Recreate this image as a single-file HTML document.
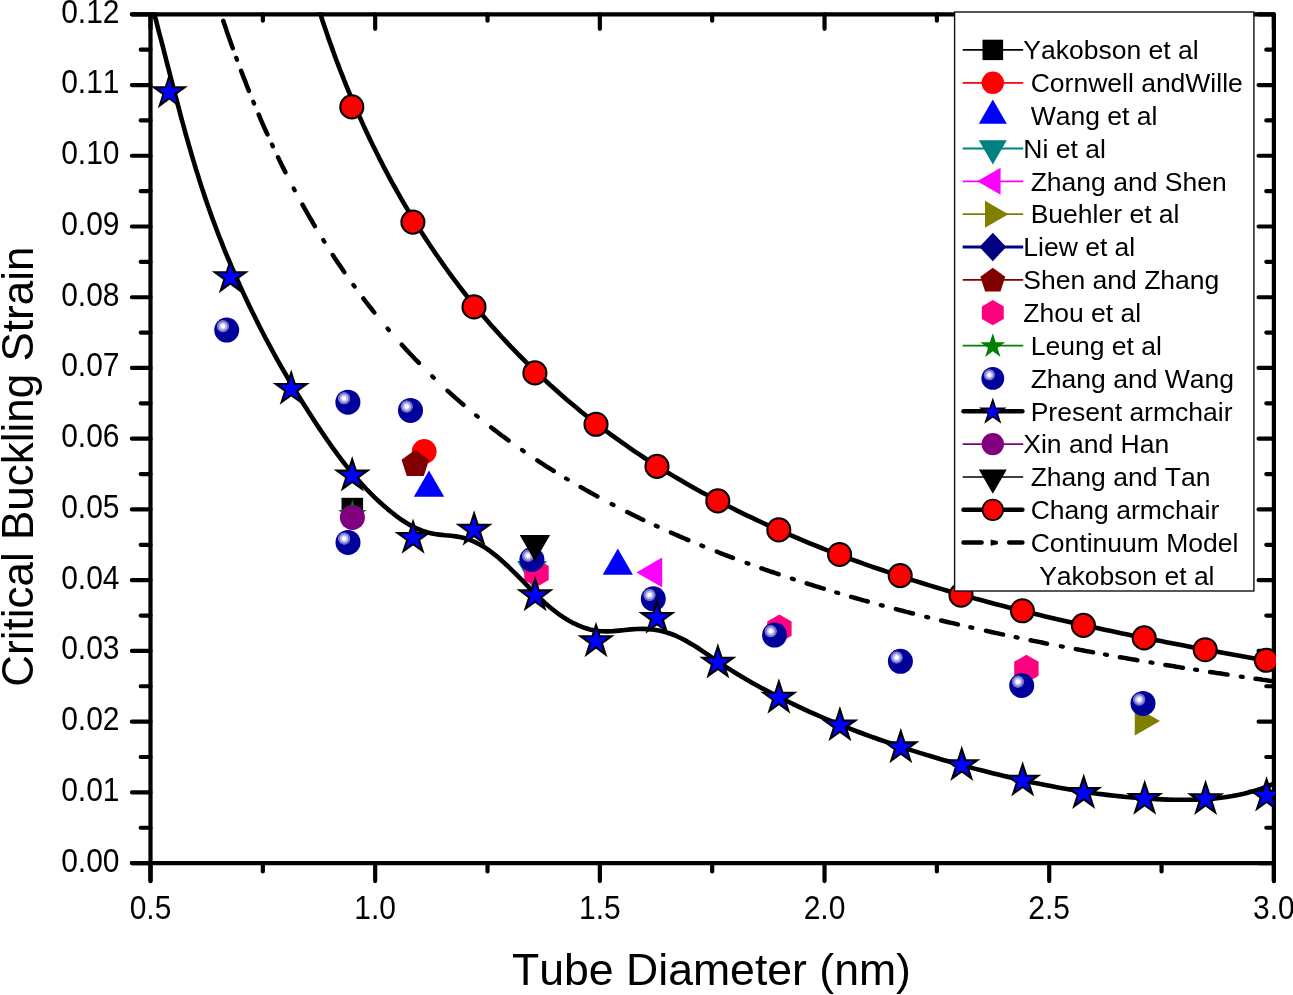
<!DOCTYPE html>
<html lang="en"><head><meta charset="utf-8"><title>Critical Buckling Strain vs Tube Diameter</title>
<style>html,body{margin:0;padding:0;background:#fff;}body{width:1293px;height:995px;overflow:hidden;}svg{display:block;will-change:transform;}</style>
</head><body>
<svg width="1293" height="995" viewBox="0 0 1293 995">
<defs>
<radialGradient id="hl" cx="0.5" cy="0.5" r="0.5"><stop offset="0" stop-color="#ffffff"/><stop offset="0.27" stop-color="#ffffff"/><stop offset="0.40" stop-color="#c6c6ec"/><stop offset="0.60" stop-color="#b0b0e3"/><stop offset="0.69" stop-color="#7a7ace"/><stop offset="0.90" stop-color="#6a6ac6"/><stop offset="1" stop-color="#00009b"/></radialGradient>
<clipPath id="plot"><rect x="148.5" y="12.3" width="1127.4" height="852.8000000000001"/></clipPath>
</defs>
<rect width="1293" height="995" fill="#fff"/>
<g stroke="#000" stroke-width="4.2" stroke-linecap="round" fill="none">
<path d="M131.9,14.3H1273.9M131.9,863.1H1273.9M150.5,14.3V881.1M1273.9,14.3V881.1"/>
<path d="M131.9,863.10H150.5M1258.6000000000001,863.10H1273.9M140.7,827.73H150.5M1266.3000000000002,827.73H1273.9M131.9,792.37H150.5M1258.6000000000001,792.37H1273.9M140.7,757.00H150.5M1266.3000000000002,757.00H1273.9M131.9,721.63H150.5M1258.6000000000001,721.63H1273.9M140.7,686.27H150.5M1266.3000000000002,686.27H1273.9M131.9,650.90H150.5M1258.6000000000001,650.90H1273.9M140.7,615.53H150.5M1266.3000000000002,615.53H1273.9M131.9,580.17H150.5M1258.6000000000001,580.17H1273.9M140.7,544.80H150.5M1266.3000000000002,544.80H1273.9M131.9,509.43H150.5M1258.6000000000001,509.43H1273.9M140.7,474.07H150.5M1266.3000000000002,474.07H1273.9M131.9,438.70H150.5M1258.6000000000001,438.70H1273.9M140.7,403.33H150.5M1266.3000000000002,403.33H1273.9M131.9,367.97H150.5M1258.6000000000001,367.97H1273.9M140.7,332.60H150.5M1266.3000000000002,332.60H1273.9M131.9,297.23H150.5M1258.6000000000001,297.23H1273.9M140.7,261.87H150.5M1266.3000000000002,261.87H1273.9M131.9,226.50H150.5M1258.6000000000001,226.50H1273.9M140.7,191.13H150.5M1266.3000000000002,191.13H1273.9M131.9,155.77H150.5M1258.6000000000001,155.77H1273.9M140.7,120.40H150.5M1266.3000000000002,120.40H1273.9M131.9,85.03H150.5M1258.6000000000001,85.03H1273.9M140.7,49.67H150.5M1266.3000000000002,49.67H1273.9M131.9,14.30H150.5M1258.6000000000001,14.30H1273.9M150.50,863.1V881.1M150.50,14.3V28.8M262.84,863.1V871.4M262.84,14.3V20.700000000000003M375.18,863.1V881.1M375.18,14.3V28.8M487.52,863.1V871.4M487.52,14.3V20.700000000000003M599.86,863.1V881.1M599.86,14.3V28.8M712.20,863.1V871.4M712.20,14.3V20.700000000000003M824.54,863.1V881.1M824.54,14.3V28.8M936.88,863.1V871.4M936.88,14.3V20.700000000000003M1049.22,863.1V881.1M1049.22,14.3V28.8M1161.56,863.1V871.4M1161.56,14.3V20.700000000000003M1273.90,863.1V881.1M1273.90,14.3V28.8"/>
</g>
<g font-family="Liberation Sans, Arial, Helvetica, sans-serif" style="font-kerning:none" font-size="30" fill="#000">
<text transform="translate(119.5,871.5) scale(1,1.1)" text-anchor="end">0.00</text>
<text transform="translate(119.5,800.8) scale(1,1.1)" text-anchor="end">0.01</text>
<text transform="translate(119.5,730.0) scale(1,1.1)" text-anchor="end">0.02</text>
<text transform="translate(119.5,659.3) scale(1,1.1)" text-anchor="end">0.03</text>
<text transform="translate(119.5,588.6) scale(1,1.1)" text-anchor="end">0.04</text>
<text transform="translate(119.5,517.8) scale(1,1.1)" text-anchor="end">0.05</text>
<text transform="translate(119.5,447.1) scale(1,1.1)" text-anchor="end">0.06</text>
<text transform="translate(119.5,376.4) scale(1,1.1)" text-anchor="end">0.07</text>
<text transform="translate(119.5,305.6) scale(1,1.1)" text-anchor="end">0.08</text>
<text transform="translate(119.5,234.9) scale(1,1.1)" text-anchor="end">0.09</text>
<text transform="translate(119.5,164.2) scale(1,1.1)" text-anchor="end">0.10</text>
<text transform="translate(119.5,93.4) scale(1,1.1)" text-anchor="end">0.11</text>
<text transform="translate(119.5,22.7) scale(1,1.1)" text-anchor="end">0.12</text>
<text transform="translate(150.5,919.1) scale(1,1.1)" text-anchor="middle">0.5</text>
<text transform="translate(375.2,919.1) scale(1,1.1)" text-anchor="middle">1.0</text>
<text transform="translate(599.9,919.1) scale(1,1.1)" text-anchor="middle">1.5</text>
<text transform="translate(824.5,919.1) scale(1,1.1)" text-anchor="middle">2.0</text>
<text transform="translate(1049.2,919.1) scale(1,1.1)" text-anchor="middle">2.5</text>
<text transform="translate(1273.9,919.1) scale(1,1.1)" text-anchor="middle">3.0</text>
</g>
<text font-family="Liberation Sans, Arial, Helvetica, sans-serif" style="font-kerning:none" font-size="44.6" x="711.5" y="984.8" text-anchor="middle">Tube Diameter (nm)</text>
<text font-family="Liberation Sans, Arial, Helvetica, sans-serif" style="font-kerning:none" font-size="44" transform="translate(33.2,686.7) rotate(-90)">Critical Buckling Strain</text>
<g clip-path="url(#plot)">
<rect x="341.5" y="497.8" width="21.6" height="21.6" fill="#000"/>
<circle cx="424.2" cy="451.4" r="12.4" fill="#f00"/>
<polygon points="429.00,470.45 413.80,496.78 444.20,496.78" fill="#00f"/>
<polygon points="617.80,548.56 602.70,574.72 632.90,574.72" fill="#00f"/>
<polygon points="532.00,586.69 517.20,561.06 546.80,561.06" fill="#008080"/>
<polygon points="636.39,572.40 662.20,557.50 662.20,587.30" fill="#f0f"/>
<polygon points="1160.06,721.00 1134.77,706.40 1134.77,735.60" fill="#808000"/>
<polygon points="415.30,449.80 429.09,459.82 423.82,476.03 406.78,476.03 401.51,459.82" fill="#800000"/>
<polygon points="536.50,558.90 548.71,565.95 548.71,580.05 536.50,587.10 524.29,580.05 524.29,565.95" fill="#ff007f"/>
<polygon points="779.40,614.50 791.61,621.55 791.61,635.65 779.40,642.70 767.19,635.65 767.19,621.55" fill="#ff007f"/>
<polygon points="1026.40,654.70 1038.61,661.75 1038.61,675.85 1026.40,682.90 1014.19,675.85 1014.19,661.75" fill="#ff007f"/>
<polygon points="352.40,499.40 355.81,509.90 366.86,509.90 357.92,516.39 361.33,526.90 352.40,520.41 343.47,526.90 346.88,516.39 337.94,509.90 348.99,509.90" fill="#008000"/>
<circle cx="226.7" cy="330.1" r="12.5" fill="#00009b"/><circle cx="222.90" cy="326.25" r="6.50" fill="url(#hl)"/>
<circle cx="347.9" cy="402.2" r="12.5" fill="#00009b"/><circle cx="344.10" cy="398.35" r="6.50" fill="url(#hl)"/>
<circle cx="410.5" cy="410.4" r="12.5" fill="#00009b"/><circle cx="406.70" cy="406.55" r="6.50" fill="url(#hl)"/>
<circle cx="348.0" cy="542.4" r="12.5" fill="#00009b"/><circle cx="344.20" cy="538.55" r="6.50" fill="url(#hl)"/>
<circle cx="531.9" cy="559.5" r="12.5" fill="#00009b"/><circle cx="528.10" cy="555.65" r="6.50" fill="url(#hl)"/>
<circle cx="653.3" cy="598.8" r="12.5" fill="#00009b"/><circle cx="649.50" cy="594.95" r="6.50" fill="url(#hl)"/>
<circle cx="774.5" cy="635.1" r="12.5" fill="#00009b"/><circle cx="770.70" cy="631.25" r="6.50" fill="url(#hl)"/>
<circle cx="900.4" cy="661.3" r="12.5" fill="#00009b"/><circle cx="896.60" cy="657.45" r="6.50" fill="url(#hl)"/>
<circle cx="1021.7" cy="685.5" r="12.5" fill="#00009b"/><circle cx="1017.90" cy="681.65" r="6.50" fill="url(#hl)"/>
<circle cx="1143" cy="703.4" r="12.5" fill="#00009b"/><circle cx="1139.20" cy="699.55" r="6.50" fill="url(#hl)"/>
<path d="M153.3,10.1 L154.8,15.8 L156.3,21.4 L157.7,27.1 L159.2,32.8 L160.7,38.5 L162.2,44.2 L163.6,49.8 L165.1,55.5 L166.5,61.2 L168.0,66.9 L169.5,72.6 L170.9,78.3 L172.4,84.1 L173.9,89.8 L175.4,95.5 L176.9,101.2 L178.4,106.9 L179.9,112.6 L181.4,118.3 L183.0,124.0 L184.5,129.6 L186.1,135.3 L187.7,141.0 L189.3,146.7 L191.0,152.3 L192.6,158.0 L194.3,163.6 L196.0,169.3 L197.8,174.9 L199.5,180.5 L201.3,186.1 L203.2,191.7 L205.0,197.3 L206.9,202.8 L208.9,208.4 L210.8,213.9 L212.8,219.5 L214.9,225.0 L216.9,230.5 L219.0,236.0 L221.2,241.4 L223.3,246.9 L225.5,252.3 L227.8,257.8 L230.1,263.2 L232.4,268.6 L234.7,274.0 L237.1,279.3 L239.5,284.7 L241.9,290.0 L244.4,295.4 L246.9,300.7 L249.4,306.0 L252.0,311.3 L254.6,316.6 L257.2,321.8 L259.8,327.0 L262.5,332.3 L265.2,337.5 L268.0,342.7 L270.8,347.9 L273.6,353.0 L276.4,358.2 L279.3,363.3 L282.2,368.4 L285.2,373.5 L288.1,378.6 L291.1,383.7 L294.2,388.8 L297.2,393.8 L300.3,398.8 L303.4,403.8 L306.6,408.8 L309.8,413.8 L313.0,418.8 L316.2,423.7 L319.5,428.6 L322.8,433.6 L326.1,438.4 L329.5,443.3 L332.9,448.1 L336.4,452.9 L339.9,457.6 L343.5,462.3 L347.1,466.9 L350.8,471.4 L354.6,475.9 L358.4,480.4 L362.4,484.7 L366.3,489.0 L370.4,493.2 L374.6,497.3 L378.8,501.3 L383.2,505.3 L387.6,509.1 L392.2,512.8 L396.8,516.4 L401.6,519.8 L406.5,523.0 L411.5,525.9 L416.7,528.5 L422.1,530.7 L427.6,532.5 L433.3,533.8 L439.2,534.6 L445.2,535.3 L451.2,535.8 L457.2,536.6 L463.0,537.7 L468.6,539.4 L474.1,541.6 L479.3,544.2 L484.4,547.2 L489.3,550.5 L494.0,554.1 L498.6,557.8 L503.0,561.7 L507.4,565.7 L511.6,569.8 L515.8,573.9 L519.9,578.1 L524.0,582.2 L528.0,586.4 L532.1,590.6 L536.3,594.7 L540.5,598.7 L544.7,602.7 L549.1,606.5 L553.7,610.2 L558.3,613.8 L563.2,617.1 L568.2,620.3 L573.5,623.2 L578.9,625.7 L584.4,627.8 L590.0,629.5 L595.7,630.7 L601.5,631.3 L607.4,631.4 L613.2,631.1 L619.1,630.6 L625.0,630.0 L631.0,629.4 L636.9,629.0 L642.8,628.9 L648.7,629.1 L654.5,629.7 L660.2,630.8 L665.9,632.2 L671.4,634.0 L676.8,636.2 L682.0,638.7 L687.1,641.4 L692.2,644.4 L697.2,647.5 L702.1,650.8 L707.0,654.2 L712.0,657.6 L716.9,660.9 L721.8,664.2 L726.8,667.5 L731.8,670.6 L736.8,673.7 L741.8,676.8 L746.9,679.7 L752.0,682.7 L757.1,685.5 L762.3,688.4 L767.5,691.1 L772.7,693.9 L777.9,696.6 L783.1,699.2 L788.4,701.8 L793.7,704.4 L799.0,706.9 L804.3,709.4 L809.6,711.8 L815.0,714.2 L820.4,716.5 L825.8,718.9 L831.2,721.1 L836.6,723.4 L842.1,725.6 L847.5,727.7 L853.0,729.9 L858.5,732.0 L864.0,734.0 L869.6,736.1 L875.1,738.0 L880.6,740.0 L886.2,741.9 L891.8,743.8 L897.4,745.7 L903.0,747.6 L908.6,749.4 L914.2,751.1 L919.8,752.9 L925.5,754.6 L931.1,756.3 L936.7,758.0 L942.4,759.7 L948.1,761.3 L953.7,762.9 L959.4,764.5 L965.1,766.0 L970.8,767.6 L976.5,769.1 L982.2,770.5 L987.9,772.0 L993.6,773.4 L999.3,774.8 L1005.0,776.2 L1010.7,777.6 L1016.5,778.9 L1022.2,780.2 L1027.9,781.4 L1033.7,782.7 L1039.4,783.8 L1045.2,785.0 L1051.0,786.1 L1056.7,787.2 L1062.5,788.2 L1068.3,789.2 L1074.1,790.2 L1079.9,791.1 L1085.7,792.0 L1091.5,792.9 L1097.3,793.7 L1103.1,794.4 L1109.0,795.1 L1114.8,795.8 L1120.7,796.4 L1126.5,797.0 L1132.4,797.5 L1138.3,798.0 L1144.1,798.4 L1150.0,798.8 L1155.9,799.1 L1161.8,799.4 L1167.7,799.6 L1173.6,799.8 L1179.6,799.8 L1185.5,799.8 L1191.4,799.8 L1197.3,799.6 L1203.2,799.3 L1209.0,798.9 L1214.9,798.4 L1220.7,797.8 L1226.5,797.0 L1232.3,796.1 L1238.1,795.0 L1243.8,793.8 L1249.4,792.3 L1255.0,790.7 L1260.6,788.9 L1266.1,786.9 L1271.6,784.7 L1277.0,782.3" fill="none" stroke="#000" stroke-width="4.6" stroke-linejoin="round"/>
<polygon points="169.30,76.10 172.94,87.29 184.71,87.29 175.19,94.21 178.82,105.41 169.30,98.49 159.78,105.41 163.41,94.21 153.89,87.29 165.66,87.29" fill="#00f" stroke="#000" stroke-width="2.1" stroke-linejoin="miter"/>
<polygon points="230.30,261.10 233.94,272.29 245.71,272.29 236.19,279.21 239.82,290.41 230.30,283.49 220.78,290.41 224.41,279.21 214.89,272.29 226.66,272.29" fill="#00f" stroke="#000" stroke-width="2.1" stroke-linejoin="miter"/>
<polygon points="291.20,372.80 294.84,383.99 306.61,383.99 297.09,390.91 300.72,402.11 291.20,395.19 281.68,402.11 285.31,390.91 275.79,383.99 287.56,383.99" fill="#00f" stroke="#000" stroke-width="2.1" stroke-linejoin="miter"/>
<polygon points="352.20,459.40 355.84,470.59 367.61,470.59 358.09,477.51 361.72,488.71 352.20,481.79 342.68,488.71 346.31,477.51 336.79,470.59 348.56,470.59" fill="#00f" stroke="#000" stroke-width="2.1" stroke-linejoin="miter"/>
<polygon points="413.10,521.80 416.74,532.99 428.51,532.99 418.99,539.91 422.62,551.11 413.10,544.19 403.58,551.11 407.21,539.91 397.69,532.99 409.46,532.99" fill="#00f" stroke="#000" stroke-width="2.1" stroke-linejoin="miter"/>
<polygon points="474.10,513.60 477.74,524.79 489.51,524.79 479.99,531.71 483.62,542.91 474.10,535.99 464.58,542.91 468.21,531.71 458.69,524.79 470.46,524.79" fill="#00f" stroke="#000" stroke-width="2.1" stroke-linejoin="miter"/>
<polygon points="535.10,579.20 538.74,590.39 550.51,590.39 540.99,597.31 544.62,608.51 535.10,601.59 525.58,608.51 529.21,597.31 519.69,590.39 531.46,590.39" fill="#00f" stroke="#000" stroke-width="2.1" stroke-linejoin="miter"/>
<polygon points="596.00,625.10 599.64,636.29 611.41,636.29 601.89,643.21 605.52,654.41 596.00,647.49 586.48,654.41 590.11,643.21 580.59,636.29 592.36,636.29" fill="#00f" stroke="#000" stroke-width="2.1" stroke-linejoin="miter"/>
<polygon points="657.00,601.80 660.64,612.99 672.41,612.99 662.89,619.91 666.52,631.11 657.00,624.19 647.48,631.11 651.11,619.91 641.59,612.99 653.36,612.99" fill="#00f" stroke="#000" stroke-width="2.1" stroke-linejoin="miter"/>
<polygon points="717.90,646.50 721.54,657.69 733.31,657.69 723.79,664.61 727.42,675.81 717.90,668.89 708.38,675.81 712.01,664.61 702.49,657.69 714.26,657.69" fill="#00f" stroke="#000" stroke-width="2.1" stroke-linejoin="miter"/>
<polygon points="778.90,681.60 782.54,692.79 794.31,692.79 784.79,699.71 788.42,710.91 778.90,703.99 769.38,710.91 773.01,699.71 763.49,692.79 775.26,692.79" fill="#00f" stroke="#000" stroke-width="2.1" stroke-linejoin="miter"/>
<polygon points="839.90,709.30 843.54,720.49 855.31,720.49 845.79,727.41 849.42,738.61 839.90,731.69 830.38,738.61 834.01,727.41 824.49,720.49 836.26,720.49" fill="#00f" stroke="#000" stroke-width="2.1" stroke-linejoin="miter"/>
<polygon points="900.80,731.20 904.44,742.39 916.21,742.39 906.69,749.31 910.32,760.51 900.80,753.59 891.28,760.51 894.91,749.31 885.39,742.39 897.16,742.39" fill="#00f" stroke="#000" stroke-width="2.1" stroke-linejoin="miter"/>
<polygon points="961.80,749.00 965.44,760.19 977.21,760.19 967.69,767.11 971.32,778.31 961.80,771.39 952.28,778.31 955.91,767.11 946.39,760.19 958.16,760.19" fill="#00f" stroke="#000" stroke-width="2.1" stroke-linejoin="miter"/>
<polygon points="1022.70,764.50 1026.34,775.69 1038.11,775.69 1028.59,782.61 1032.22,793.81 1022.70,786.89 1013.18,793.81 1016.81,782.61 1007.29,775.69 1019.06,775.69" fill="#00f" stroke="#000" stroke-width="2.1" stroke-linejoin="miter"/>
<polygon points="1083.70,776.90 1087.34,788.09 1099.11,788.09 1089.59,795.01 1093.22,806.21 1083.70,799.29 1074.18,806.21 1077.81,795.01 1068.29,788.09 1080.06,788.09" fill="#00f" stroke="#000" stroke-width="2.1" stroke-linejoin="miter"/>
<polygon points="1144.70,782.80 1148.34,793.99 1160.11,793.99 1150.59,800.91 1154.22,812.11 1144.70,805.19 1135.18,812.11 1138.81,800.91 1129.29,793.99 1141.06,793.99" fill="#00f" stroke="#000" stroke-width="2.1" stroke-linejoin="miter"/>
<polygon points="1205.60,783.00 1209.24,794.19 1221.01,794.19 1211.49,801.11 1215.12,812.31 1205.60,805.39 1196.08,812.31 1199.71,801.11 1190.19,794.19 1201.96,794.19" fill="#00f" stroke="#000" stroke-width="2.1" stroke-linejoin="miter"/>
<polygon points="1266.60,779.50 1270.24,790.69 1282.01,790.69 1272.49,797.61 1276.12,808.81 1266.60,801.89 1257.08,808.81 1260.71,797.61 1251.19,790.69 1262.96,790.69" fill="#00f" stroke="#000" stroke-width="2.1" stroke-linejoin="miter"/>
<circle cx="352.4" cy="517.4" r="12.5" fill="#800080"/>
<polygon points="534.90,561.25 519.70,534.92 550.10,534.92" fill="#000"/>
<path d="M319.6,11.8 L321.4,17.2 L323.1,22.5 L324.9,27.8 L326.7,33.1 L328.5,38.4 L330.4,43.6 L332.3,48.9 L334.2,54.2 L336.1,59.5 L338.1,64.7 L340.1,70.0 L342.2,75.2 L344.2,80.4 L346.3,85.7 L348.5,90.9 L350.6,96.1 L352.8,101.3 L355.0,106.4 L357.3,111.6 L359.6,116.8 L361.9,121.9 L364.2,127.1 L366.6,132.2 L369.0,137.3 L371.5,142.4 L373.9,147.4 L376.5,152.5 L379.0,157.6 L381.6,162.6 L384.1,167.6 L386.8,172.6 L389.4,177.6 L392.1,182.6 L394.9,187.5 L397.6,192.4 L400.4,197.3 L403.2,202.2 L406.1,207.1 L409.0,212.0 L411.9,216.8 L414.8,221.6 L417.8,226.4 L420.8,231.2 L423.9,235.9 L426.9,240.6 L430.0,245.3 L433.2,250.0 L436.4,254.7 L439.6,259.3 L442.8,263.9 L446.1,268.5 L449.4,273.1 L452.7,277.6 L456.1,282.1 L459.5,286.6 L462.9,291.0 L466.4,295.5 L469.9,299.9 L473.5,304.2 L477.0,308.6 L480.6,312.9 L484.3,317.2 L487.9,321.4 L491.6,325.7 L495.4,329.9 L499.1,334.0 L502.9,338.2 L506.8,342.3 L510.6,346.4 L514.5,350.4 L518.4,354.5 L522.4,358.5 L526.3,362.4 L530.4,366.4 L534.4,370.3 L538.5,374.1 L542.5,378.0 L546.7,381.8 L550.8,385.6 L555.0,389.3 L559.2,393.0 L563.4,396.7 L567.7,400.4 L572.0,404.0 L576.3,407.6 L580.6,411.2 L585.0,414.7 L589.4,418.2 L593.8,421.6 L598.2,425.1 L602.7,428.5 L607.2,431.8 L611.7,435.1 L616.2,438.4 L620.8,441.7 L625.4,444.9 L630.0,448.1 L634.6,451.3 L639.3,454.4 L643.9,457.5 L648.6,460.6 L653.4,463.6 L658.1,466.6 L662.9,469.6 L667.6,472.5 L672.4,475.4 L677.3,478.3 L682.1,481.1 L687.0,483.9 L691.9,486.7 L696.8,489.4 L701.7,492.2 L706.6,494.8 L711.6,497.5 L716.5,500.1 L721.5,502.7 L726.5,505.3 L731.6,507.8 L736.6,510.4 L741.6,512.9 L746.7,515.3 L751.8,517.7 L756.9,520.1 L762.0,522.5 L767.1,524.9 L772.3,527.2 L777.4,529.5 L782.6,531.8 L787.8,534.0 L792.9,536.2 L798.2,538.4 L803.4,540.6 L808.6,542.8 L813.8,544.9 L819.1,547.0 L824.3,549.1 L829.6,551.1 L834.9,553.1 L840.2,555.1 L845.4,557.1 L850.7,559.1 L856.1,561.0 L861.4,562.9 L866.7,564.8 L872.0,566.7 L877.4,568.5 L882.7,570.3 L888.1,572.1 L893.4,573.9 L898.8,575.7 L904.2,577.4 L909.5,579.2 L914.9,580.9 L920.3,582.5 L925.7,584.2 L931.1,585.9 L936.5,587.5 L941.9,589.1 L947.3,590.7 L952.7,592.2 L958.1,593.8 L963.5,595.3 L969.0,596.9 L974.4,598.4 L979.8,599.8 L985.3,601.3 L990.7,602.8 L996.1,604.2 L1001.6,605.6 L1007.0,607.0 L1012.5,608.4 L1018.0,609.8 L1023.4,611.1 L1028.9,612.5 L1034.3,613.8 L1039.8,615.1 L1045.3,616.4 L1050.8,617.7 L1056.2,619.0 L1061.7,620.3 L1067.2,621.5 L1072.7,622.8 L1078.2,624.0 L1083.7,625.2 L1089.2,626.4 L1094.7,627.6 L1100.2,628.8 L1105.7,630.0 L1111.2,631.1 L1116.7,632.3 L1122.2,633.4 L1127.7,634.5 L1133.2,635.7 L1138.7,636.8 L1144.2,637.9 L1149.7,639.0 L1155.2,640.0 L1160.8,641.1 L1166.3,642.2 L1171.8,643.2 L1177.3,644.3 L1182.8,645.3 L1188.4,646.4 L1193.9,647.4 L1199.4,648.4 L1204.9,649.4 L1210.4,650.5 L1216.0,651.5 L1221.5,652.5 L1227.0,653.5 L1232.5,654.4 L1238.1,655.4 L1243.6,656.4 L1249.1,657.4 L1254.6,658.4 L1260.2,659.3 L1265.7,660.3 L1271.2,661.3 L1276.7,662.2" fill="none" stroke="#000" stroke-width="4.6" stroke-linejoin="round"/>
<circle cx="351.8" cy="106.9" r="11.55" fill="#f00" stroke="#000" stroke-width="2"/>
<circle cx="412.9" cy="222.1" r="11.55" fill="#f00" stroke="#000" stroke-width="2"/>
<circle cx="474" cy="306.9" r="11.55" fill="#f00" stroke="#000" stroke-width="2"/>
<circle cx="534.9" cy="372.9" r="11.55" fill="#f00" stroke="#000" stroke-width="2"/>
<circle cx="596" cy="424.3" r="11.55" fill="#f00" stroke="#000" stroke-width="2"/>
<circle cx="657" cy="466.4" r="11.55" fill="#f00" stroke="#000" stroke-width="2"/>
<circle cx="717.8" cy="500.9" r="11.55" fill="#f00" stroke="#000" stroke-width="2"/>
<circle cx="778.8" cy="529.9" r="11.55" fill="#f00" stroke="#000" stroke-width="2"/>
<circle cx="839.6" cy="554.5" r="11.55" fill="#f00" stroke="#000" stroke-width="2"/>
<circle cx="900.2" cy="575.6" r="11.55" fill="#f00" stroke="#000" stroke-width="2"/>
<circle cx="961" cy="595.2" r="11.55" fill="#f00" stroke="#000" stroke-width="2"/>
<circle cx="1022.4" cy="610.8" r="11.55" fill="#f00" stroke="#000" stroke-width="2"/>
<circle cx="1083.4" cy="625.4" r="11.55" fill="#f00" stroke="#000" stroke-width="2"/>
<circle cx="1144.2" cy="637.9" r="11.55" fill="#f00" stroke="#000" stroke-width="2"/>
<circle cx="1205.2" cy="649.7" r="11.55" fill="#f00" stroke="#000" stroke-width="2"/>
<circle cx="1266.3" cy="660.3" r="11.55" fill="#f00" stroke="#000" stroke-width="2"/>
<path d="M223.3,20.9 L224.5,24.4 L225.7,27.9 L226.8,31.4 L228.0,34.8 L229.2,38.2 L230.4,41.6 L231.6,44.9 L232.8,48.2M241.1,70.8 L242.1,73.3 L243.0,75.9 L244.0,78.4 L245.0,80.9 L246.0,83.4 L246.9,85.9 L247.9,88.3 L248.9,90.8M258.7,114.5 L259.8,117.0 L260.8,119.6 L261.9,122.1 L263.0,124.6 L264.1,127.1 L265.2,129.5 L266.3,132.0 L267.4,134.4M278.0,157.3 L279.0,159.2 L279.9,161.1 L280.8,163.0 L281.7,164.9 L282.6,166.7 L283.6,168.6 L284.5,170.4 L285.4,172.3M302.5,204.6 L304.0,207.3 L305.6,210.1 L307.1,212.8 L308.7,215.6 L310.2,218.3 L311.8,220.9 L313.3,223.6 L314.9,226.2M332.8,255.0 L334.2,257.2 L335.7,259.4 L337.1,261.6 L338.6,263.7 L340.0,265.8 L341.5,268.0 L342.9,270.1 L344.3,272.2M363.4,298.5 L364.8,300.3 L366.1,302.0 L367.5,303.8 L368.9,305.6 L370.2,307.3 L371.6,309.0 L373.0,310.8 L374.3,312.5M401.8,344.7 L403.9,347.1 L406.0,349.4 L408.2,351.7 L410.3,354.0 L412.5,356.3 L414.6,358.5 L416.7,360.7 L418.9,362.9M447.6,390.8 L449.6,392.6 L451.6,394.4 L453.5,396.1 L455.5,397.9 L457.5,399.6 L459.5,401.4 L461.5,403.1 L463.4,404.8M491.2,427.5 L493.4,429.1 L495.6,430.8 L497.8,432.5 L499.9,434.1 L502.1,435.7 L504.3,437.3 L506.4,438.9 L508.6,440.5M537.3,460.4 L539.4,461.8 L541.4,463.1 L543.5,464.4 L545.5,465.8 L547.6,467.1 L549.6,468.4 L551.7,469.7 L553.7,471.0M580.6,487.1 L582.7,488.2 L584.8,489.4 L586.9,490.6 L589.0,491.8 L591.1,493.0 L593.2,494.1 L595.3,495.3 L597.4,496.4M627.2,512.0 L629.2,513.0 L631.2,514.0 L633.2,515.0 L635.2,516.0 L637.3,517.0 L639.3,517.9 L641.3,518.9 L643.3,519.9M670.9,532.6 L673.1,533.5 L675.3,534.5 L677.4,535.4 L679.6,536.4 L681.8,537.3 L683.9,538.2 L686.1,539.1 L688.3,540.1M716.9,551.7 L718.9,552.5 L720.9,553.3 L722.9,554.1 L724.9,554.8 L726.9,555.6 L728.9,556.4 L730.9,557.1 L732.9,557.9M761.4,568.3 L763.5,569.0 L765.7,569.8 L767.8,570.5 L770.0,571.3 L772.1,572.0 L774.3,572.7 L776.5,573.5 L778.6,574.2M806.7,583.4 L808.8,584.1 L811.0,584.7 L813.1,585.4 L815.2,586.1 L817.4,586.7 L819.5,587.4 L821.7,588.1 L823.8,588.7M851.1,596.8 L853.2,597.4 L855.3,598.0 L857.4,598.6 L859.4,599.2 L861.5,599.8 L863.6,600.4 L865.7,600.9 L867.8,601.5M895.9,609.1 L898.1,609.7 L900.2,610.2 L902.3,610.8 L904.4,611.3 L906.6,611.9 L908.7,612.4 L910.8,613.0 L913.0,613.5M941.1,620.5 L943.2,621.0 L945.3,621.5 L947.4,622.0 L949.5,622.5 L951.6,622.9 L953.7,623.4 L955.8,623.9 L957.9,624.4M986.0,630.8 L988.2,631.3 L990.3,631.7 L992.5,632.2 L994.6,632.7 L996.7,633.1 L998.9,633.6 L1001.0,634.1 L1003.1,634.5M1030.6,640.2 L1032.6,640.7 L1034.7,641.1 L1036.7,641.5 L1038.8,641.9 L1040.9,642.3 L1042.9,642.7 L1045.0,643.2 L1047.0,643.6M1075.8,649.1 L1077.9,649.5 L1080.1,649.9 L1082.2,650.3 L1084.4,650.7 L1086.6,651.1 L1088.7,651.5 L1090.9,651.9 L1093.0,652.3M1119.9,657.2 L1122.1,657.5 L1124.3,657.9 L1126.5,658.3 L1128.6,658.7 L1130.8,659.1 L1133.0,659.4 L1135.2,659.8 L1137.4,660.2M1165.4,664.9 L1167.6,665.2 L1169.8,665.6 L1172.0,665.9 L1174.1,666.3 L1176.3,666.7 L1178.5,667.0 L1180.7,667.4 L1182.9,667.7M1210.1,672.0 L1212.3,672.3 L1214.4,672.6 L1216.6,673.0 L1218.8,673.3 L1221.0,673.6 L1223.2,673.9 L1225.3,674.3 L1227.5,674.6M1255.5,678.7 L1257.8,679.0 L1260.1,679.3 L1262.4,679.7 L1264.6,680.0 L1266.9,680.3 L1269.2,680.7 L1271.5,681.0 L1273.8,681.3" fill="none" stroke="#000" stroke-width="4.5" stroke-linecap="round" stroke-linejoin="round"/>
<path d="M236.25,57.86L236.95,59.74M253.32,101.73L254.08,103.58M271.98,144.43L272.82,146.25M293.73,188.42L294.67,190.19M323.27,240.03L324.33,241.73M353.41,284.99L354.59,286.60M387.55,328.51L388.85,330.03M432.28,376.34L433.72,377.73M476.13,415.44L477.67,416.70M522.08,450.09L523.72,451.23M566.04,478.50L567.76,479.52M611.71,504.09L613.49,505.02M655.79,525.73L657.61,526.56M701.37,545.51L703.23,546.26M746.56,562.94L748.44,563.63M791.85,578.60L793.75,579.23M836.24,592.46L838.16,593.03M880.73,605.07L882.67,605.59M926.23,616.83L928.17,617.31M970.32,627.28L972.28,627.72M1015.62,637.16L1017.58,637.57M1060.82,646.26L1062.78,646.64M1105.02,654.51L1106.98,654.87M1150.51,662.42L1152.49,662.75M1195.11,669.64L1197.09,669.95M1240.71,676.55L1242.69,676.84" fill="none" stroke="#000" stroke-width="4.3" stroke-linecap="round"/>
</g>
<rect x="954.6" y="12.0" width="299.30000000000007" height="579.0" fill="#fff" stroke="#111" stroke-width="1.4"/>
<g font-family="Liberation Sans, Arial, Helvetica, sans-serif" style="font-kerning:none" font-size="26.5" fill="#000">
<text x="1023.3" y="59.1">Yakobson et al</text>
<text x="1030.7" y="92.0">Cornwell andWille</text>
<text x="1030.7" y="124.8">Wang et al</text>
<text x="1023.3" y="157.7">Ni et al</text>
<text x="1030.7" y="190.5">Zhang and Shen</text>
<text x="1030.7" y="223.3">Buehler et al</text>
<text x="1023.3" y="256.2">Liew et al</text>
<text x="1023.3" y="289.1">Shen and Zhang</text>
<text x="1023.3" y="321.9">Zhou et al</text>
<text x="1030.7" y="354.8">Leung et al</text>
<text x="1030.7" y="387.6">Zhang and Wang</text>
<text x="1030.7" y="420.5">Present armchair</text>
<text x="1023.3" y="453.3">Xin and Han</text>
<text x="1030.7" y="486.2">Zhang and Tan</text>
<text x="1030.7" y="519.0">Chang armchair</text>
<text x="1030.7" y="551.9">Continuum Model</text>
<text x="1039.2" y="584.7">Yakobson et al</text>
</g>
<path d="M962.7,49.9H1023.2" stroke="#000" stroke-width="1.8" stroke-linecap="butt" fill="none"/>
<rect x="982.5" y="39.7" width="20.6" height="20.4" fill="#000"/>
<path d="M962.7,82.8H1023.2" stroke="#f00" stroke-width="1.8" stroke-linecap="butt" fill="none"/>
<circle cx="992.8" cy="82.8" r="11.2" fill="#f00"/>
<polygon points="992.80,99.43 978.80,123.68 1006.80,123.68" fill="#00f"/>
<path d="M962.7,148.5H1023.2" stroke="#008080" stroke-width="1.8" stroke-linecap="butt" fill="none"/>
<polygon points="992.80,164.62 978.80,140.37 1006.80,140.37" fill="#008080"/>
<path d="M962.7,181.3H1023.2" stroke="#f0f" stroke-width="1.8" stroke-linecap="butt" fill="none"/>
<polygon points="977.21,181.30 1000.59,167.80 1000.59,194.80" fill="#f0f"/>
<path d="M962.7,214.2H1023.2" stroke="#808000" stroke-width="1.8" stroke-linecap="butt" fill="none"/>
<polygon points="1008.39,214.15 985.01,200.65 985.01,227.65" fill="#808000"/>
<path d="M962.7,247.0H1023.2" stroke="#000080" stroke-width="3.2" stroke-linecap="butt" fill="none"/>
<polygon points="992.8,232.8 1006.1999999999999,247.0 992.8,261.2 979.4,247.0" fill="#000080"/>
<path d="M962.7,279.9H1023.2" stroke="#800000" stroke-width="1.8" stroke-linecap="butt" fill="none"/>
<polygon points="992.80,267.75 1005.26,276.80 1000.50,291.45 985.10,291.45 980.34,276.80" fill="#800000"/>
<polygon points="992.80,300.05 1003.76,306.38 1003.76,319.03 992.80,325.35 981.84,319.03 981.84,306.38" fill="#ff007f"/>
<path d="M962.7,345.6H1023.2" stroke="#008000" stroke-width="1.8" stroke-linecap="butt" fill="none"/>
<polygon points="992.80,333.25 995.74,342.30 1005.26,342.30 997.56,347.90 1000.50,356.95 992.80,351.35 985.10,356.95 988.04,347.90 980.34,342.30 989.86,342.30" fill="#008000"/>
<circle cx="992.8" cy="378.4" r="11.4" fill="#00009b"/><circle cx="989.33" cy="374.89" r="5.93" fill="url(#hl)"/>
<path d="M963.5,411.3H1022.4" stroke="#000" stroke-width="4.5" stroke-linecap="round" fill="none"/>
<polygon points="992.80,400.05 995.49,408.34 1004.21,408.34 997.16,413.47 999.85,421.76 992.80,416.63 985.75,421.76 988.44,413.47 981.39,408.34 990.11,408.34" fill="#00f" stroke="#000" stroke-width="1.6"/>
<path d="M962.7,444.1H1023.2" stroke="#800080" stroke-width="1.6" stroke-linecap="butt" fill="none"/>
<circle cx="992.8" cy="444.1" r="11.2" fill="#800080"/>
<path d="M962.7,477.0H1023.2" stroke="#000" stroke-width="1.6" stroke-linecap="butt" fill="none"/>
<polygon points="992.80,493.82 978.80,469.57 1006.80,469.57" fill="#000"/>
<path d="M963.5,509.8H1022.4" stroke="#000" stroke-width="4.5" stroke-linecap="round" fill="none"/>
<circle cx="992.8" cy="509.8" r="10.3" fill="#f00" stroke="#000" stroke-width="1.7"/>
<path d="M963.5,542.6H981.6M1009.2,542.6H1022.4" stroke="#000" stroke-width="4.5" stroke-linecap="round" fill="none"/>
<path d="M991,540.0L997.5,541.4L997.5,543.9L991,545.2Z" fill="#000" stroke="#000" stroke-width="0.8" stroke-linejoin="round"/>
</svg>
</body></html>
